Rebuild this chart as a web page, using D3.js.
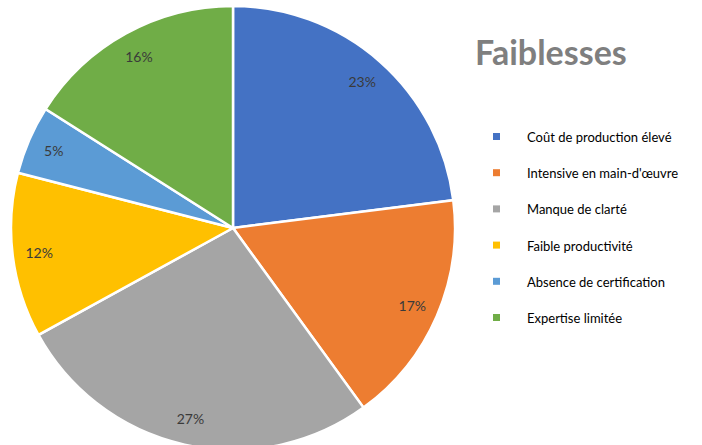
<!DOCTYPE html>
<html>
<head>
<meta charset="utf-8">
<script src="https://cdn.jsdelivr.net/npm/d3@7"></script>
<style>
  body { margin: 0; background: #fff; }
</style>
</head>
<body>
<div id="chart"></div>
<script>
// Data
var categories = ["Coût de production élevé", "Intensive en main-d'œuvre", "Manque de clarté",
                  "Faible productivité", "Absence de certification", "Expertise limitée"];
var values = [23, 17, 27, 12, 5, 16];
var colors = ["#4472C4", "#ED7D31", "#A5A5A5", "#FFC000", "#5B9BD5", "#70AD47"];

// Measurement
var w = 702, h = 445;
var cx = 233, cy = 228, r = 222;

var svg = d3.select("#chart")
  .append("svg")
  .attr("width", w)
  .attr("height", h);

var color = d3.scaleOrdinal()
  .domain(categories)
  .range(colors);

var pie = d3.pie()
  .sort(null)
  .value(function(d) { return d.value; });

var arc = d3.arc().innerRadius(0).outerRadius(r);
var labelArc = d3.arc().innerRadius(r * 0.88).outerRadius(r * 0.88);

var data = categories.map(function(c, i) { return { name: c, value: values[i] }; });
var total = d3.sum(values);

var g = svg.append("g")
  .attr("transform", "translate(" + cx + "," + cy + ")");

var slices = g.selectAll(".slice")
  .data(pie(data))
  .enter()
  .append("g")
  .attr("class", "slice");

slices.append("path")
  .attr("d", arc)
  .attr("fill", function(d) { return color(d.data.name); })
  .attr("stroke", "#fff")
  .attr("stroke-width", 2.5);

slices.append("text")
  .attr("transform", function(d) { return "translate(" + labelArc.centroid(d) + ")"; })
  .attr("text-anchor", "middle")
  .attr("dominant-baseline", "central")
  .attr("font-family", "Lato")
  .attr("font-size", 14)
  .attr("fill", "#3a3a3a")
  .text(function(d) { return Math.round(d.data.value / total * 100) + "%"; });

// Title
svg.append("text")
  .attr("x", 475)
  .attr("y", 65)
  .attr("font-family", "Lato")
  .attr("font-weight", "bold")
  .attr("font-size", 34)
  .attr("fill", "#7F7F7F")
  .text("Faiblesses");

// Legend
var legendY = d3.scalePoint()
  .domain(categories)
  .range([137, 318]);

var legend = svg.selectAll(".legend")
  .data(categories)
  .enter()
  .append("g")
  .attr("class", "legend")
  .attr("transform", function(d) { return "translate(493," + legendY(d) + ")"; });

legend.append("rect")
  .attr("x", 0)
  .attr("y", -4)
  .attr("width", 7)
  .attr("height", 7)
  .attr("fill", function(d) { return color(d); });

legend.append("text")
  .attr("x", 34)
  .attr("y", 0)
  .attr("dominant-baseline", "central")
  .attr("font-family", "Lato")
  .attr("font-size", 13)
  .attr("fill", "#000")
  .text(function(d) { return d; });
</script>
</body>
</html>
